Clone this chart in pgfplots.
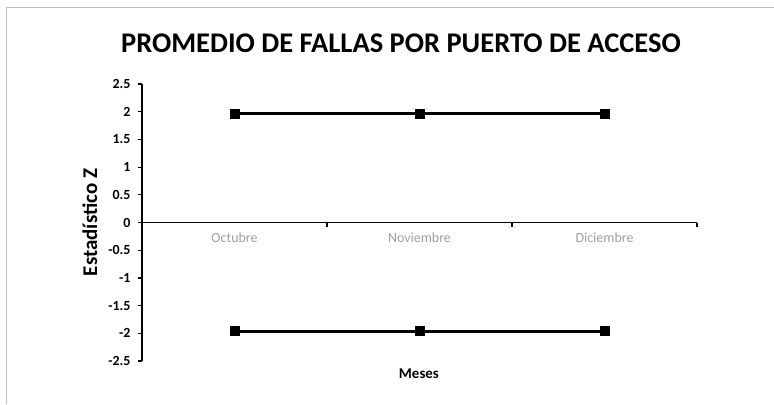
\documentclass[border=0pt]{standalone}
\usepackage{fontspec}
\setmainfont{Carlito}
\usepackage{pgfplots}
\pgfplotsset{compat=1.18}
\definecolor{framegray}{RGB}{190,190,190}
\definecolor{catgray}{RGB}{160,160,160}
\begin{document}
\begin{tikzpicture}[x=1bp,y=1bp]
\useasboundingbox (0,0) rectangle (774,404);
\fill[white] (0,0) rectangle (774,404);
\draw[framegray, line width=1bp] (6,0) -- (6,396) -- (774,396);
\node[font=\bfseries\fontsize{28.6}{32}\selectfont] at (401,361) {PROMEDIO DE FALLAS POR PUERTO DE ACCESO};
\begin{axis}[
  at={(142bp,43bp)}, anchor=south west,
  scale only axis, width=555bp, height=277bp,
  xmin=0.5, xmax=3.5, ymin=-2.5, ymax=2.5,
  axis y line=left, axis x line=middle,
  axis line style={-, line width=1.8bp},
  hide obscured x ticks=false, hide obscured y ticks=false,
  /pgf/number format/assume math mode=true,
  ytick={-2.5,-2,-1.5,-1,-0.5,0,0.5,1,1.5,2,2.5},
  yticklabels={-2.5,-2,-1.5,-1,-0.5,0,0.5,1,1.5,2,2.5},
  yticklabel style={font=\bfseries\fontsize{14}{16}\selectfont, xshift=-4bp},
  ytick style={line width=1.2bp, black},
  xtick={1,2,3},
  xticklabels={Octubre,Noviembre,Diciembre},
  xticklabel style={font=\fontsize{14}{16}\selectfont, text=catgray, yshift=-3bp},
  major x tick style={draw=none},
  minor xtick={0.5,1.5,2.5,3.5},
  minor x tick style={line width=1.2bp, black},
  tick align=outside,
  major tick length=4bp, minor tick length=4bp,
  clip=false,
]
\addplot[black, line width=3bp, mark=square*, mark size=4.5bp, mark options={line width=0pt}] coordinates {(1,1.96) (2,1.96) (3,1.96)};
\addplot[black, line width=3bp, mark=square*, mark size=4.5bp, mark options={line width=0pt}] coordinates {(1,-1.96) (2,-1.96) (3,-1.96)};
\node[rotate=90, font=\bfseries\fontsize{21}{25}\selectfont] at (axis description cs:-0.094,0.5) {Estadístico Z};
\node[font=\bfseries\fontsize{15}{18}\selectfont] at (axis description cs:0.499,-0.047) {Meses};
\end{axis}
\end{tikzpicture}
\end{document}
